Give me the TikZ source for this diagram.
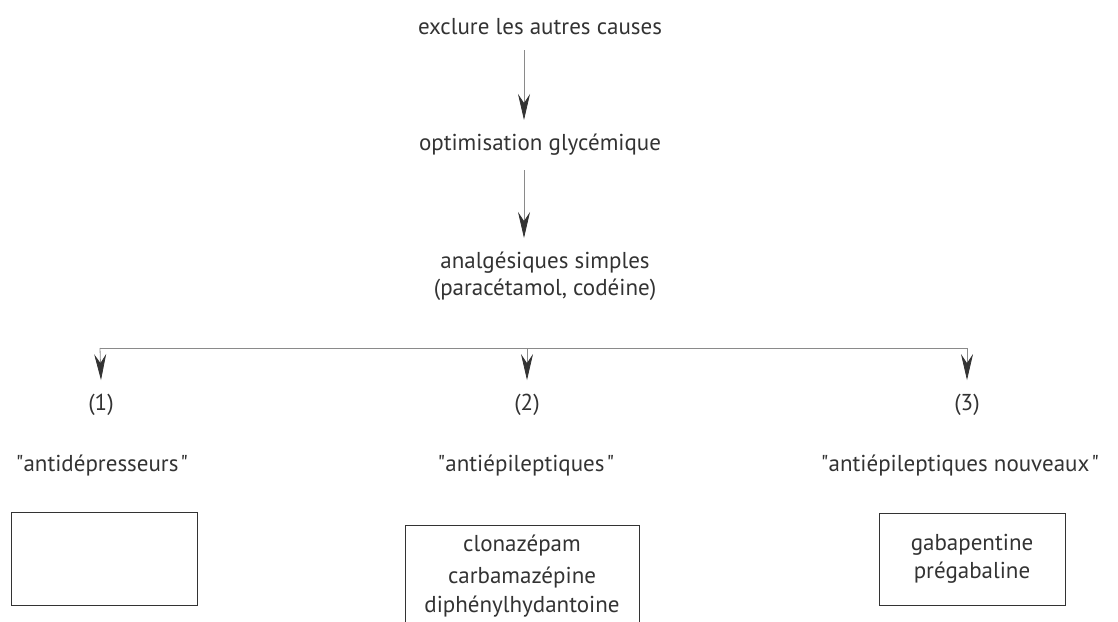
\documentclass[tikz,border=0pt]{standalone}
\usepackage{fontspec}
\setmainfont{PT Sans}
\usetikzlibrary{arrows.meta}
\definecolor{ink}{HTML}{333333}
\definecolor{linec}{HTML}{8A8A8A}
\newcommand{\qq}{\textquotedbl}
\begin{document}
\begin{tikzpicture}[x=1pt,y=-1pt,
  every node/.style={font=\fontsize{23}{27}\selectfont, text=ink, inner sep=0pt, align=center},
  conn/.style={draw=linec, line width=0.8pt},
  arr/.style={conn, -{Stealth[length=26pt,width=12pt,inset=9pt,color=ink,fill=ink]}},
  box/.style={draw=ink, line width=1pt, minimum width=#1},
]
\useasboundingbox (0,0) rectangle (1118,621);
\clip (0,0) rectangle (1118,621);
\node (a) at (540,27) {exclure les autres causes};
\node (b) at (540,145) {optimisation glycémique};
\node (c) at (545,276) {analgésiques simples\\(paracétamol, codéine)};
\draw[arr] (524,50) coordinate (a1) -- (524,120) coordinate (a2);
\draw[arr] (524,170) coordinate (b1) -- (524,238) coordinate (b2);
\coordinate (h1) at (100,348);
\coordinate (h2) at (527,348);
\coordinate (h3) at (967,348);
\draw[conn] (h1) -- (h3);
\node (n1) at (101,405) {(1)};
\node (n2) at (527,405) {(2)};
\node (n3) at (967,405) {(3)};
\draw[arr] (h1) -- ([yshift=14pt]n1.north);
\draw[arr] (h2) -- ([yshift=14pt]n2.north);
\draw[arr] (h3) -- ([yshift=14pt]n3.north);
\node (t1) at (102,466) {\qq antidépresseurs\kern2pt\qq};
\node (t2) at (526,466) {\qq antiépileptiques\kern2pt\qq};
\node (t3) at (960,466) {\qq antiépileptiques nouveaux\kern2pt\qq};
\node[box=186pt, minimum height=93pt] (B1) at (104,558.5) {};
\node[box=234pt, minimum height=110pt] (B2) at (522,580) {};
\node at (522,546) {clonazépam};
\node at (522,578) {carbamazépine};
\node at (522,607) {diphénylhydantoine};
\node[box=186pt, minimum height=92pt, font=\fontsize{23}{28}\selectfont] (B3) at (972,559) {gabapentine\\prégabaline};
\end{tikzpicture}
\end{document}
